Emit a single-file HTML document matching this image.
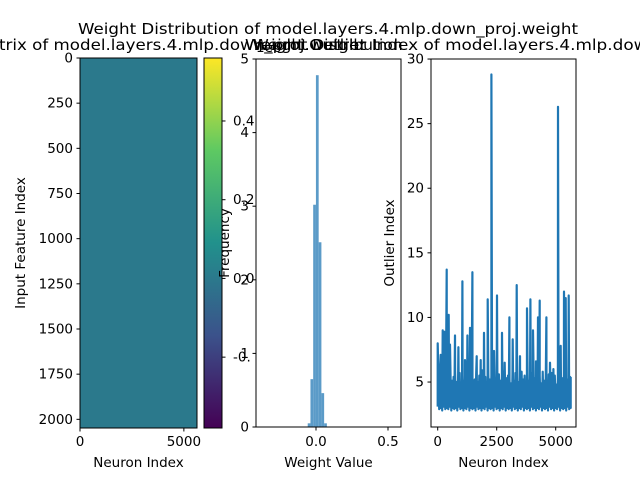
<!DOCTYPE html>
<html><head><meta charset="utf-8"><style>
body{margin:0;background:#fff}
svg{display:block;font-family:"DejaVu Sans","Liberation Sans",sans-serif}
</style></head><body>
<svg id="fig" width="640" height="480" viewBox="0 0 640 480">
<rect width="640" height="480" fill="#fff"/>
<text x="328" y="34" font-size="15.5" text-anchor="middle" textLength="500" lengthAdjust="spacingAndGlyphs">Weight Distribution of model.layers.4.mlp.down_proj.weight</text>
<text x="138.5" y="50" font-size="15.5" text-anchor="middle" textLength="455" lengthAdjust="spacingAndGlyphs">Weight Matrix of model.layers.4.mlp.down_proj.weight</text>
<text x="328" y="50" font-size="15.5" text-anchor="middle">Weight Distribution</text>
<text x="503" y="50" font-size="15.5" text-anchor="middle" textLength="516" lengthAdjust="spacingAndGlyphs">Weight Outlier Index of model.layers.4.mlp.down_proj.weight</text>
<g id="g1"></g>
<g id="g2"></g>
<g id="g3"></g>
</svg>
<script>
// Heatmap data
const heatRows = 2048, heatCols = 5632;
const heatValue = [0.0];
const cbarTicks = [0.4, 0.2, 0.0, -0.2];
const cbarLabels = ["0.4", "0.2", "0.0", "-0."];
const heatXTicks = [0, 5000];
const heatYTicks = [0, 250, 500, 750, 1000, 1250, 1500, 1750, 2000];
// Histogram data (x in weight units, y in 1e6 counts)
const histCenters = [-0.048, -0.029, -0.010, 0.009, 0.028, 0.047, 0.066];
const histCounts = [0.05, 0.65, 3.02, 4.78, 2.51, 0.46, 0.05];
const histXTicks = [0.0, 0.5];
const histYTicks = [0, 1, 2, 3, 4, 5];
// Outlier data
const spikeIdx = [0,127,212,283,381,466,523,734,876,1045,1158,1257,1370,1469,1653,1822,1963,2119,2274,2387,2514,2726,2839,3037,3178,3347,3489,3785,3927,4040,4167,4251,4322,4449,4605,4760,4901,5099,5212,5353,5424,5551,5636];
const spikeVal = [8.0,7.1,9.0,8.9,13.7,10.2,7.9,8.6,7.7,12.8,6.7,8.6,9.2,13.5,7.0,6.7,8.8,11.4,28.8,7.4,11.7,8.8,6.5,10.0,8.3,12.5,7.0,10.7,11.4,9.0,6.6,10.0,11.3,5.6,10.0,6.5,6.0,26.3,7.8,12.0,11.5,11.7,5.4];
const baseVal = [3.1,5.2,2.9,5.6,3.0,4.9,2.8,5.5,3.1,5.0,2.9,5.8,3.0,5.3,2.9,4.8,3.1,5.6,2.8,5.1,3.0,5.4,2.9,5.9,3.0,5.0,2.8,5.2,3.1,5.7,2.9,4.9,3.0,5.5,2.8,5.1,3.0,5.3,2.9,5.8,3.1,5.0,2.8,5.4,3.0,5.6,2.9,4.9,3.0,5.2,2.8,5.7,3.1,5.0,2.9,5.5,3.0,5.3,2.8,5.9,3.0,5.1,2.9,5.4,3.1,4.8,2.8,5.6,3.0,5.2,2.9,5.5,3.0,5.0,2.8,5.7,3.1,5.3,2.9,4.9,3.0,5.6,2.8,5.1,3.0,5.4,2.9,5.8,3.1,5.0,2.8,5.3,3.0,5.5,2.9,5.2,3.0,4.9,2.8,5.6,3.1,5.1,2.9,5.7,3.0,5.4,2.8,5.0,3.0,5.3,2.9,5.8,3.1,5.2,2.8,5.5,3.0,4.9,2.9,5.6,3.0,5.1,2.8,5.4,3.1,5.7,2.9,5.0,3.0,5.3,2.8,5.6,3.0,5.2,2.9,5.5,3.1,4.9,2.8,5.8,3.0,5.1,2.9,5.4,3.0,5.0,2.8,5.6,3.1,5.3,2.9,5.7,3.0,5.2,2.8,5.5,3.0,4.8,2.9,5.4,3.1,5.0,2.8,5.6,3.0,5.3,2.9,5.1,3.0,5.5,2.8,5.2,3.1,4.9,2.9,5.4,3.0];
const outXTicks = [0, 2500, 5000];
const outYTicks = [5, 10, 15, 20, 25, 30];

const NS = "http://www.w3.org/2000/svg";
function mk(parent, tag, attrs, txt){const e=document.createElementNS(NS,tag);for(const k in attrs)e.setAttribute(k,attrs[k]);if(txt!==undefined)e.textContent=txt;parent.appendChild(e);return e;}
function viridis(t){const c=[[68,1,84],[59,82,139],[33,145,140],[94,201,98],[253,231,37]];t=Math.max(0,Math.min(1,t))*4;const i=Math.min(3,Math.floor(t)),f=t-i;return `rgb(${c[i].map((v,j)=>Math.round(v+(c[i+1][j]-v)*f)).join(',')})`;}

// ---- Panel 1: heatmap ----
const g1=document.getElementById('g1');
const hx=v=>80+v/heatCols*117, hy=v=>58+v/heatRows*370;
const cMin=-0.38,cMax=0.56; const cy=v=>428-(v-cMin)/(cMax-cMin)*370;
let r=mk(g1,'rect',{x:80,y:58,width:117,height:370,fill:viridis((heatValue[0]-cMin)/(cMax-cMin))});


mk(g1,'rect',{x:80,y:58,width:117,height:370,fill:'none',stroke:'#000','stroke-width':1});
heatYTicks.forEach(v=>{const y=hy(v);mk(g1,'line',{x1:76.5,x2:80,y1:y,y2:y,stroke:'#000'});const t=mk(g1,'text',{x:73,y:y+4.5,'font-size':13.5,'text-anchor':'end'},String(v));});
heatXTicks.forEach(v=>{const x=hx(v);mk(g1,'line',{x1:x,x2:x,y1:428,y2:431.5,stroke:'#000'});const t=mk(g1,'text',{x:x,y:446,'font-size':13.5,'text-anchor':'middle'},String(v));});
let t1=mk(g1,'text',{x:138.5,y:467,'font-size':13.5,'text-anchor':'middle'},'Neuron Index');
let t2=mk(g1,'text',{x:25,y:243,'font-size':13.5,'text-anchor':'middle',transform:'rotate(-90 25 243)'},'Input Feature Index');
// colorbar
const defs=mk(g1,'defs',{});const lg=mk(defs,'linearGradient',{id:'vg',x1:0,y1:1,x2:0,y2:0});
for(let i=0;i<=4;i++)mk(lg,'stop',{offset:i/4,'stop-color':viridis(i/4)});
let cb=mk(g1,'rect',{x:204,y:58,width:18,height:370,fill:'url(#vg)',stroke:'#000','stroke-width':1});


cbarTicks.forEach((v,i)=>{const y=cy(v);mk(g1,'line',{x1:222,x2:225.5,y1:y,y2:y,stroke:'#000'});const t=mk(g1,'text',{x:233,y:y+4.5,'font-size':13.5},cbarLabels[i]);});

// ---- Panel 2: histogram ----
const g2=document.getElementById('g2');
const px=v=>316+v*144, py=v=>427-v*73.6;
const bw=0.019*144;
histCenters.forEach((c,i)=>{const b=mk(g2,'rect',{x:px(c)-bw/2,y:py(histCounts[i]),width:bw,height:427-py(histCounts[i]),fill:'#5b9bc8'});});
mk(g2,'rect',{x:256,y:59,width:145,height:368,fill:'none',stroke:'#000'});
histYTicks.forEach(v=>{const y=py(v);mk(g2,'line',{x1:252.5,x2:256,y1:y,y2:y,stroke:'#000'});const t=mk(g2,'text',{x:249,y:y+4.5,'font-size':13.5,'text-anchor':'end'},String(v));});
histXTicks.forEach(v=>{const x=px(v);mk(g2,'line',{x1:x,x2:x,y1:427,y2:430.5,stroke:'#000'});const t=mk(g2,'text',{x:x,y:446,'font-size':13.5,'text-anchor':'middle'},v.toFixed(1));});
let t3=mk(g2,'text',{x:256,y:52,'font-size':13.5},'1e6');
let t4=mk(g2,'text',{x:328.5,y:467,'font-size':13.5,'text-anchor':'middle'},'Weight Value');
let t5=mk(g2,'text',{x:229,y:243,'font-size':13.5,'text-anchor':'middle',transform:'rotate(-90 229 243)'},'Frequency');

// ---- Panel 3: outlier line ----
const g3=document.getElementById('g3');
const ox=v=>437.7+v/2500*59, oy=v=>427-(v-1.52)*12.92;
const pts=[];
const step=5636/(baseVal.length-1);
baseVal.forEach((v,i)=>pts.push([i*step,v]));
spikeIdx.forEach((v,i)=>pts.push([v,spikeVal[i]]));
pts.sort((a,b)=>a[0]-b[0]);
let ln=mk(g3,'polyline',{points:pts.map(p=>ox(p[0]).toFixed(1)+','+oy(p[1]).toFixed(1)).join(' '),fill:'none',stroke:'#1f77b4','stroke-width':2.2,'stroke-linejoin':'round'});


mk(g3,'rect',{x:431,y:59,width:145,height:368,fill:'none',stroke:'#000'});
outYTicks.forEach(v=>{const y=oy(v);mk(g3,'line',{x1:427.5,x2:431,y1:y,y2:y,stroke:'#000'});const t=mk(g3,'text',{x:424,y:y+4.5,'font-size':13.5,'text-anchor':'end'},String(v));});
outXTicks.forEach(v=>{const x=ox(v);mk(g3,'line',{x1:x,x2:x,y1:427,y2:430.5,stroke:'#000'});const t=mk(g3,'text',{x:x,y:446,'font-size':13.5,'text-anchor':'middle'},String(v));});
let t6=mk(g3,'text',{x:503.5,y:467,'font-size':13.5,'text-anchor':'middle'},'Neuron Index');
let t7=mk(g3,'text',{x:394,y:243,'font-size':13.5,'text-anchor':'middle',transform:'rotate(-90 394 243)'},'Outlier Index');
</script>
</body></html>
